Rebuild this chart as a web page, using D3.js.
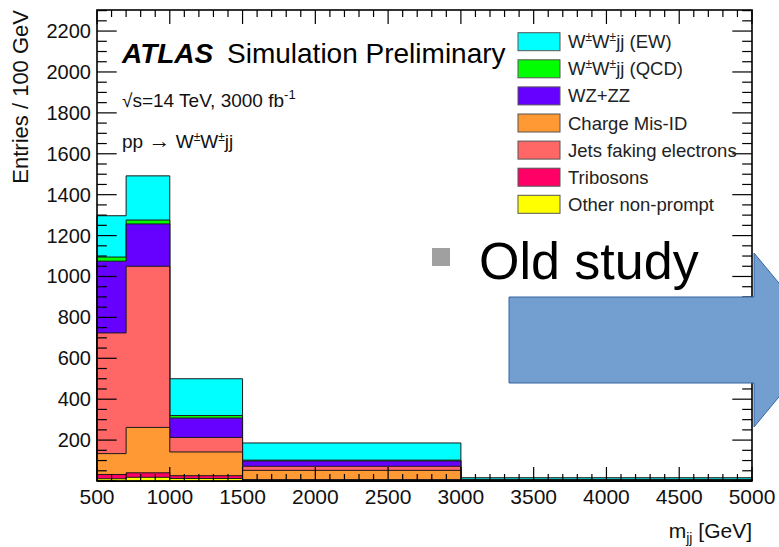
<!DOCTYPE html>
<html>
<head>
<meta charset="utf-8">
<script src="https://cdn.jsdelivr.net/npm/d3@7"></script>
<style>
  body { margin: 0; background: #fff; }
  svg { display: block; font-family: "Liberation Sans", Arial, Helvetica, sans-serif; }
</style>
</head>
<body>
<div id="chart"></div>
<script>
// bin edges in GeV, values are entries / 100 GeV
var binEdges = [500, 700, 1000, 1500, 3000, 5000];

// stack order, bottom first
var otherNonPrompt = [11, 18, 12, 3, 1];
var tribosons      = [21, 22, 14, 4, 1];
var chargeMisID    = [102, 222, 116, 45, 2];
var jetsFaking     = [590, 788, 71, 20, 1];
var wzzz           = [351, 207, 95, 26, 2];
var wwQCD          = [20, 19, 12, 4, 1];
var wwEW           = [202, 216, 180, 84, 8];

var xTicks = [500, 1000, 1500, 2000, 2500, 3000, 3500, 4000, 4500, 5000];
var yTicks = [200, 400, 600, 800, 1000, 1200, 1400, 1600, 1800, 2000, 2200];

var W = 779, H = 547;
var frame = {left: 97, right: 752, top: 10, bottom: 481};

var svg = d3.select("#chart").append("svg")
    .attr("width", W)
    .attr("height", H);

var x = d3.scaleLinear().domain([500, 5000]).range([frame.left, frame.right]);
var y = d3.scaleLinear().domain([0, 2303]).range([frame.bottom, frame.top]);

// layers, in the order they stack
var layers = [
    {name: "Other non-prompt", values: otherNonPrompt, color: "#ffff00"},
    {name: "Tribosons", values: tribosons, color: "#ff0066"},
    {name: "Charge Mis-ID", values: chargeMisID, color: "#ff9933"},
    {name: "Jets faking electrons", values: jetsFaking, color: "#ff6666"},
    {name: "WZ+ZZ", values: wzzz, color: "#6600ff"},
    {name: "QCD", values: wwQCD, color: "#00ff00"},
    {name: "EW", values: wwEW, color: "#00ffff"}
];

var nBins = binEdges.length - 1;
var cum = d3.range(nBins).map(function(){ return 0; });
layers.forEach(function(l){
    l.cum = cum.map(function(c, i){ return c + l.values[i]; });
    cum = l.cum;
});

var area = d3.area()
    .curve(d3.curveStepAfter)
    .x(function(d){ return x(d.x); })
    .y0(y(0))
    .y1(function(d){ return y(d.v); });

var gBars = svg.append("g");
// THStack style: draw tallest cumulative first
for(var k = layers.length - 1; k >= 0; k--){
    var l = layers[k];
    var pts = binEdges.map(function(e, i){
        return {x: e, v: l.cum[Math.min(i, nBins - 1)]};
    });
    gBars.append("path")
        .attr("d", area(pts))
        .attr("fill", l.color)
        .attr("stroke", "#1a1a1a")
        .attr("stroke-width", 1);
}

// axes, ROOT style ticks inside on all four sides
var gAx = svg.append("g").attr("stroke", "#000");
var xMinor = d3.range(500, 5001, 100);
var yMinor = d3.range(0, 2301, 50);
var xMajLen = 14, xMinLen = 7, yMajLen = 19.7, yMinLen = 9.8;

xMinor.forEach(function(v){
    var len = (v % 500 === 0) ? xMajLen : xMinLen;
    gAx.append("line").attr("x1", x(v)).attr("x2", x(v))
        .attr("y1", frame.bottom).attr("y2", frame.bottom - len).attr("stroke-width", 1.2);
    gAx.append("line").attr("x1", x(v)).attr("x2", x(v))
        .attr("y1", frame.top).attr("y2", frame.top + len).attr("stroke-width", 1.2);
});
yMinor.forEach(function(v){
    var len = (v % 200 === 0) ? yMajLen : yMinLen;
    gAx.append("line").attr("y1", y(v)).attr("y2", y(v))
        .attr("x1", frame.left).attr("x2", frame.left + len).attr("stroke-width", 1.2);
    gAx.append("line").attr("y1", y(v)).attr("y2", y(v))
        .attr("x1", frame.right).attr("x2", frame.right - len).attr("stroke-width", 1.2);
});
gAx.append("rect")
    .attr("x", frame.left).attr("y", frame.top)
    .attr("width", frame.right - frame.left)
    .attr("height", frame.bottom - frame.top)
    .attr("fill", "none")
    .attr("stroke-width", 1.6);

svg.append("g").selectAll("text").data(xTicks).enter().append("text")
    .attr("x", function(d){ return x(d); })
    .attr("y", 504)
    .attr("text-anchor", "middle")
    .attr("font-size", 21)
    .attr("fill", "#111")
    .text(function(d){ return d; });

svg.append("g").selectAll("text").data(yTicks).enter().append("text")
    .attr("x", 91)
    .attr("y", function(d){ return y(d) + 7; })
    .attr("text-anchor", "end")
    .attr("font-size", 20)
    .attr("fill", "#111")
    .text(function(d){ return d; });

// axis titles
svg.append("text")
    .attr("transform", "translate(28," + frame.top + ") rotate(-90)")
    .attr("text-anchor", "end")
    .attr("font-size", 22)
    .attr("fill", "#111")
    .text("Entries / 100 GeV");

var xt = svg.append("text")
    .attr("x", frame.right).attr("y", 538)
    .attr("text-anchor", "end")
    .attr("font-size", 21)
    .attr("fill", "#111");
xt.append("tspan").text("m");
xt.append("tspan").attr("font-size", 14).attr("dy", 5).text("jj");
xt.append("tspan").attr("dy", -5).text(" [GeV]");

// labels
var atl = svg.append("text").attr("x", 122).attr("y", 63).attr("font-size", 28).attr("fill", "#000");
atl.append("tspan").attr("font-weight", "bold").attr("font-style", "italic").text("ATLAS");
atl.append("tspan").attr("dx", 6).text(" Simulation Preliminary");

var ecm = svg.append("text").attr("x", 122).attr("y", 107).attr("font-size", 19).attr("fill", "#111");
ecm.append("tspan").text("√s=14 TeV, 3000 fb");
ecm.append("tspan").attr("font-size", 13).attr("dy", -8).text("-1");

var proc = svg.append("text").attr("x", 122).attr("y", 148).attr("font-size", 19).attr("fill", "#111");
proc.append("tspan").text("pp ");
proc.append("tspan").attr("font-size", 22).text("→");
proc.append("tspan").text(" W");
proc.append("tspan").attr("font-size", 12).attr("dy", -7).text("±");
proc.append("tspan").attr("dy", 7).text("W");
proc.append("tspan").attr("font-size", 12).attr("dy", -7).text("±");
proc.append("tspan").attr("dy", 7).text("jj");

// legend, reverse of stack order
var legendRows = [
    {label: ["W", "±", "W", "±", "jj (EW)"], color: "#00ffff"},
    {label: ["W", "±", "W", "±", "jj (QCD)"], color: "#00ff00"},
    {label: ["WZ+ZZ"], color: "#6600ff"},
    {label: ["Charge Mis-ID"], color: "#ff9933"},
    {label: ["Jets faking electrons"], color: "#ff6666"},
    {label: ["Tribosons"], color: "#ff0066"},
    {label: ["Other non-prompt"], color: "#ffff00"}
];
var leg = svg.append("g");
legendRows.forEach(function(r, i){
    var cy = 41.7 + i * 27.1;
    leg.append("rect")
        .attr("x", 518).attr("y", cy - 9)
        .attr("width", 42).attr("height", 18)
        .attr("fill", r.color)
        .attr("stroke", "#555")
        .attr("stroke-width", 1);
    var t = leg.append("text")
        .attr("x", 568).attr("y", cy + 6.5)
        .attr("font-size", 18.5)
        .attr("fill", "#222");
    r.label.forEach(function(s, j){
        if(s === "±"){
            t.append("tspan").attr("font-size", 12).attr("dy", -7).text(s);
        } else {
            var ts = t.append("tspan").text(s);
            if(j > 0) ts.attr("dy", 7);
        }
    });
});

// slide overlay: bullet, text and arrow
svg.append("rect")
    .attr("x", 432).attr("y", 248)
    .attr("width", 18).attr("height", 18)
    .attr("fill", "#a0a0a0");
svg.append("text")
    .attr("x", 479).attr("y", 279)
    .attr("font-size", 52)
    .attr("fill", "#000")
    .text("Old study");

var arrowPts = [[509, 297], [754, 297], [754, 253], [826, 340], [754, 427], [754, 383], [509, 383]];
svg.append("path")
    .attr("d", d3.line()(arrowPts) + "Z")
    .attr("fill", "#729fcf")
    .attr("stroke", "#3465a4")
    .attr("stroke-width", 1);
</script>
</body>
</html>
